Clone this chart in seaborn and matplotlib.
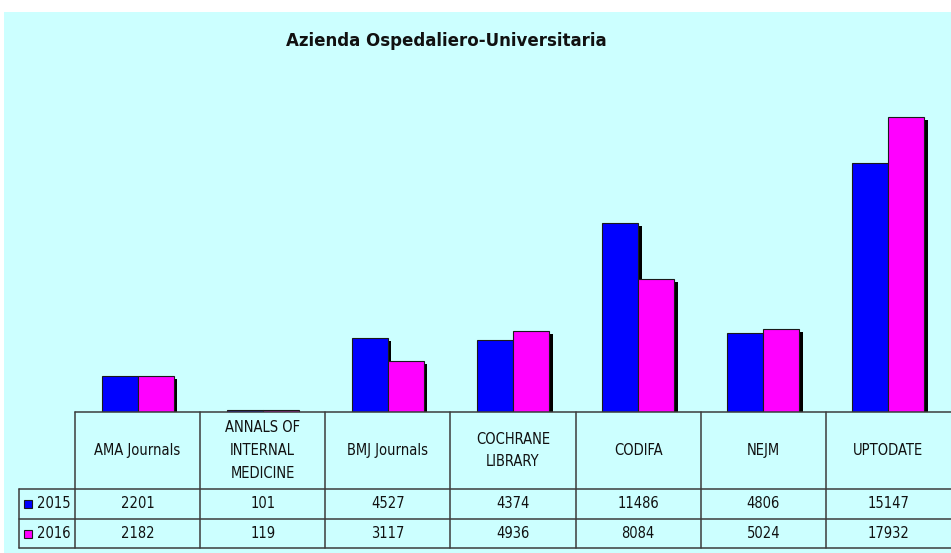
import matplotlib
matplotlib.use("Agg")
import matplotlib.pyplot as plt
import matplotlib.patheffects as pe
from matplotlib.patches import Rectangle
from matplotlib.transforms import blended_transform_factory
import pandas as pd
import seaborn as sns

# dati
fonti = ["AMA Journals", "ANNALS OF\nINTERNAL\nMEDICINE", "BMJ Journals",
         "COCHRANE\nLIBRARY", "CODIFA", "NEJM", "UPTODATE"]
anni = ["2015", "2016"]
valori_2015 = [2201, 101, 4527, 4374, 11486, 4806, 15147]
valori_2016 = [2182, 119, 3117, 4936, 8084, 5024, 17932]
colori = ["#0000FF", "#FF00FF"]
titolo = "Azienda Ospedaliero-Universitaria"

df = pd.DataFrame({
    "FONTE": fonti * 2,
    "ANNO": [anni[0]] * len(fonti) + [anni[1]] * len(fonti),
    "ACCESSI": valori_2015 + valori_2016,
})

sns.set_theme(style="white")
plt.rcParams["font.family"] = ["DejaVu Sans"]
plt.rcParams["font.stretch"] = "condensed"

fig = plt.figure(figsize=(9.51, 5.53), dpi=100)
fig.patch.set_facecolor("white")
sfondo = Rectangle((4 / 951, 0), 1, 541 / 553, transform=fig.transFigure,
                   facecolor="#CCFFFF", edgecolor="none", zorder=-5)
fig.patches.append(sfondo)

ax = fig.add_axes([75 / 951, 141 / 553, 876 / 951, 329 / 553])
ax.set_facecolor("none")

sns.barplot(data=df, x="FONTE", y="ACCESSI", hue="ANNO", palette=colori,
            width=0.575, saturation=1, edgecolor="#1a1a1a", linewidth=0.8,
            legend=False, ax=ax)

# ombra nera stile Excel
for p in ax.patches:
    p.set_path_effects([pe.SimplePatchShadow(offset=(2.6, -2.2),
                                             shadow_rgbFace="black", alpha=1),
                        pe.Normal()])

ax.set_xlim(-0.5, 6.5)
ax.set_ylim(0, 20000)
ax.set_xticks([])
ax.set_yticks([])
ax.set_xlabel("")
ax.set_ylabel("")
for s in ax.spines.values():
    s.set_visible(False)

# tabella dati sotto il grafico
tr = blended_transform_factory(ax.transData, ax.transAxes)
col_linea = "#3c3c3c"
x_sx = -0.9475
y_head = -77 / 329
y_r1 = -107 / 329
y_r2 = -136 / 329
fs = 10.5

ax.plot([-0.5, 6.5], [0, 0], color=col_linea, lw=1.1, transform=tr, clip_on=False)
for y in (y_head, y_r1, y_r2):
    ax.plot([x_sx, 6.5], [y, y], color=col_linea, lw=1.1, transform=tr, clip_on=False)
for i in range(len(fonti)):
    ax.plot([i - 0.5, i - 0.5], [0, y_r2], color=col_linea, lw=1.1,
            transform=tr, clip_on=False)
ax.plot([x_sx, x_sx], [y_head, y_r2], color=col_linea, lw=1.1,
        transform=tr, clip_on=False)

for i, nome in enumerate(fonti):
    ax.text(i, y_head / 2, nome, ha="center", va="center", fontsize=fs,
            linespacing=1.65, color="#111111", transform=tr)
    ax.text(i, (y_head + y_r1) / 2, str(valori_2015[i]), ha="center",
            va="center", fontsize=fs, color="#111111", transform=tr)
    ax.text(i, (y_r1 + y_r2) / 2, str(valori_2016[i]), ha="center",
            va="center", fontsize=fs, color="#111111", transform=tr)

for anno, colore, (y0, y1) in zip(anni, colori, [(y_head, y_r1), (y_r1, y_r2)]):
    yc = (y0 + y1) / 2
    ax.plot([-0.8756], [yc], marker="s", markersize=6, color=colore,
            markeredgecolor="#1a1a1a", markeredgewidth=0.8, transform=tr,
            clip_on=False)
    ax.text(-0.804, yc, anno, ha="left", va="center", fontsize=fs,
            color="#111111", transform=tr)

fig.text(446 / 951, 1 - 41 / 553, titolo, ha="center", va="center",
         fontsize=12, fontweight="bold", fontstretch="normal", color="#111111")

fig.savefig("out.png", dpi=100)
